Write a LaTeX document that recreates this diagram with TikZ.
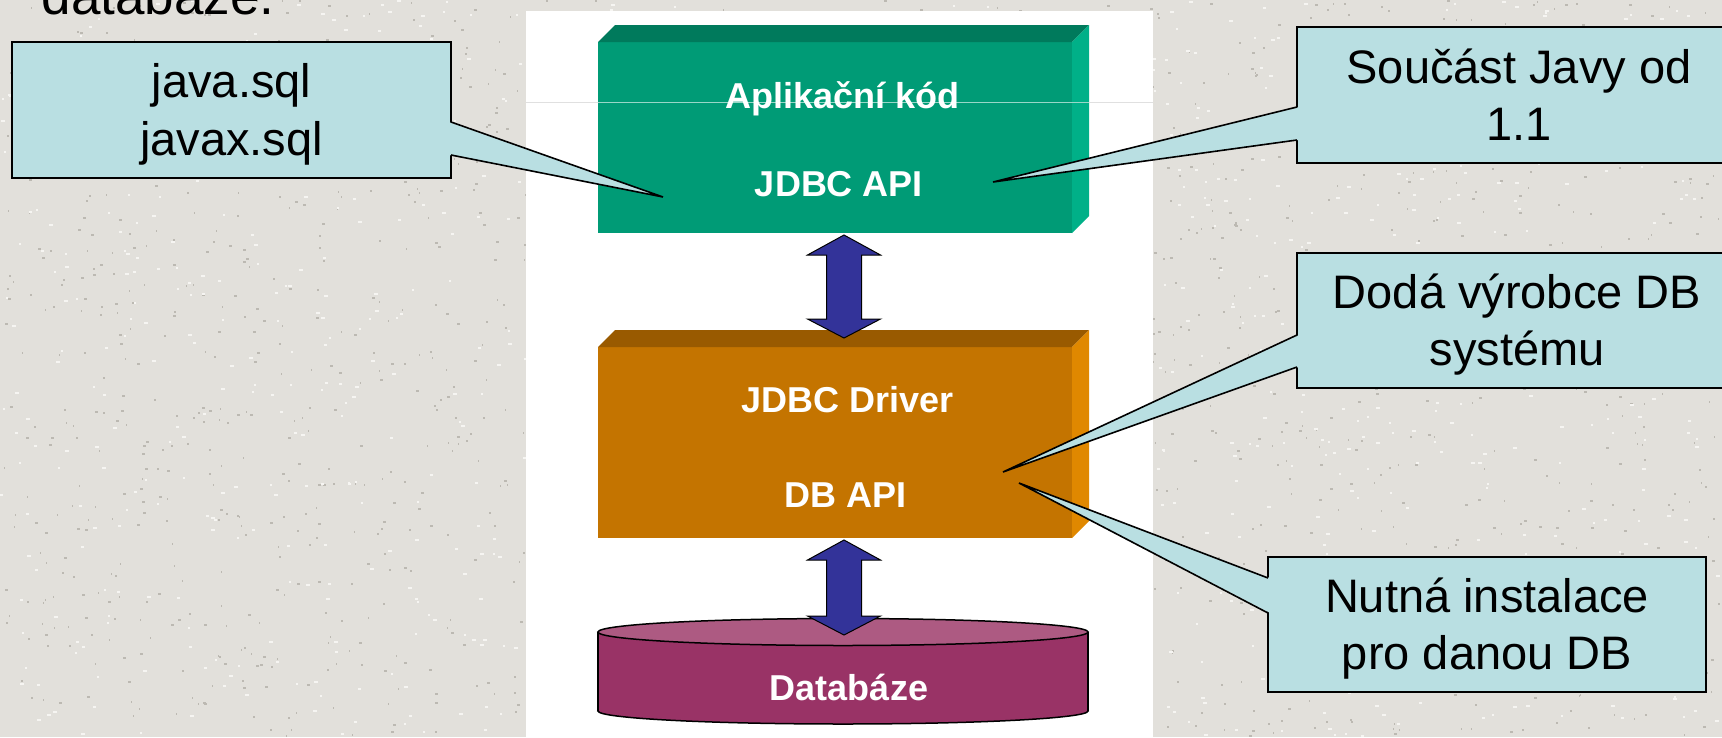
\documentclass[tikz,border=0pt]{standalone}
\usepackage{fontspec}
\setmainfont{Liberation Sans}
\usetikzlibrary{calc}
\definecolor{bgtex}{RGB}{226,224,219}
\definecolor{speckd}{RGB}{188,185,178}
\definecolor{speckl}{RGB}{246,245,242}
\definecolor{callfill}{RGB}{185,223,226}
\definecolor{gfront}{RGB}{0,155,118}
\definecolor{gtop}{RGB}{0,122,92}
\definecolor{gside}{RGB}{0,176,136}
\definecolor{ofront}{RGB}{196,116,0}
\definecolor{otop}{RGB}{153,90,0}
\definecolor{oside}{RGB}{224,136,0}
\definecolor{dbside}{RGB}{153,51,102}
\definecolor{dbtopc}{RGB}{173,90,130}
\definecolor{arrowblue}{RGB}{51,51,153}
\newcommand{\blockarrow}[2]{%
  \draw[barrow] (#1) -- ++(36.5,20) -- ++(-19,0) -- ($(#2)+(17.5,-19)$) -- ++(19,0) -- (#2)
     -- ++(-36.5,-19) -- ++(19,0) -- ($(#1)+(-17.5,20)$) -- ++(-19,0) -- cycle;}
\begin{document}
\begin{tikzpicture}[x=1pt,y=-1pt,
  callbox/.style={draw=black, line width=1.6pt, fill=callfill, rectangle, inner sep=0pt, outer sep=0pt},
  calltext/.style={anchor=base, inner sep=0pt, font=\fontsize{47}{57}\selectfont},
  blocktext/.style={anchor=base, inner sep=0pt, text=white, font=\fontsize{36}{43}\selectfont\bfseries},
  blockfront/.style={rectangle, draw=none, inner sep=0pt, outer sep=0pt, minimum width=474pt, minimum height=191pt},
  pointerline/.style={draw=black, line width=1.6pt},
  barrow/.style={fill=arrowblue, draw=black, line width=1pt, line join=miter},
  dbline/.style={draw=black, line width=1.5pt},
]
\useasboundingbox (0,0) rectangle (1722,737);
\clip (0,0) rectangle (1722,737);
\fill[bgtex] (0,0) rectangle (1722,737);

% granite-like background texture (light)
\pgfmathsetseed{4242}
\foreach \i in {1,...,1800}{%
  \pgfmathtruncatemacro{\px}{1722*rnd}%
  \pgfmathtruncatemacro{\py}{737*rnd}%
  \pgfmathtruncatemacro{\pw}{1+3*rnd}%
  \fill[speckd] (\px,\py) rectangle ++(\pw,2);
}
\foreach \i in {1,...,1200}{%
  \pgfmathtruncatemacro{\px}{1722*rnd}%
  \pgfmathtruncatemacro{\py}{737*rnd}%
  \pgfmathtruncatemacro{\pw}{2+3*rnd}%
  \fill[speckl] (\px,\py) rectangle ++(\pw,2);
}

% title fragment
\node[anchor=base west, inner sep=0pt, font=\fontsize{53}{60}\selectfont] (title) at (41.5,14) {databáze.};

% white panel
\fill[white] (526,11) rectangle (1153,745);

% green block
\node[blockfront, fill=gfront] (app) at (835,137.5) {};
\fill[gtop] (app.north west) -- ++(17,-17) -- ($(app.north east)+(17,-17)$) -- (app.north east) -- cycle;
\fill[gside] (app.north east) -- ++(17,-17) -- ($(app.south east)+(17,-17)$) -- (app.south east) -- cycle;
\draw[black!12, line width=0.8pt] (526,102.5) -- (app.west |- 0,102.5);
\draw[white!60!gfront, line width=0.8pt] (app.west |- 0,102.5) -- (1089,102.5);
\draw[black!12, line width=0.8pt] (1089,102.5) -- (1153,102.5);
\node[blocktext] (appa) at (842.5,108) {Aplikační kód};
\node[blocktext] (appb) at (839,196) {JDBC API};

% orange block
\node[blockfront, fill=ofront] (drv) at (835,442.5) {};
\fill[otop] (drv.north west) -- ++(17,-17) -- ($(drv.north east)+(17,-17)$) -- (drv.north east) -- cycle;
\fill[oside] (drv.north east) -- ++(17,-17) -- ($(drv.south east)+(17,-17)$) -- (drv.south east) -- cycle;
\node[blocktext] (drva) at (847.5,412) {JDBC Driver};
\node[blocktext] (drvb) at (845.5,507) {DB API};

% database cylinder
\coordinate (dbtop) at (843,632);
\coordinate (dbbot) at (843,711);
\filldraw[fill=dbside, dbline] (dbbot) ellipse [x radius=245pt, y radius=13pt];
\fill[dbside] (598,632) rectangle (1088,711);
\draw[dbline] (598,632) -- (598,711) (1088,632) -- (1088,711);
\filldraw[fill=dbtopc, dbline] (dbtop) ellipse [x radius=245pt, y radius=13.5pt];
\node[blocktext] (db) at (849,700) {Databáze};

% double block arrows
\coordinate (a1t) at ($(app.south)+(9,2)$);
\coordinate (a1b) at ($(drv.north)+(9,-9)$);
\coordinate (a2t) at ($(drv.south)+(9,2)$);
\coordinate (a2b) at ($(dbtop)+(1,3)$);
\blockarrow{a1t}{a1b}
\blockarrow{a2t}{a2b}

% callouts
\node[callbox, minimum width=439pt, minimum height=136pt] (c1) at (231.5,110) {};
\node[callbox, minimum width=444pt, minimum height=136pt] (c2) at (1519,95) {};
\node[callbox, minimum width=444pt, minimum height=135pt] (c3) at (1519,320.5) {};
\node[callbox, minimum width=438pt, minimum height=135pt] (c4) at (1487,624.5) {};

\coordinate (p1) at (663,197);
\coordinate (p2) at (993,182);
\coordinate (p3) at (1003,472);
\coordinate (p4) at (1019,483);

\fill[callfill] ([xshift=-2pt,yshift=-12pt]c1.east) -- (p1) -- ([xshift=-2pt,yshift=-45pt]c1.east) -- cycle;
\draw[pointerline] ([yshift=-12pt]c1.east) -- (p1) -- ([yshift=-45pt]c1.east);

\fill[callfill] ([xshift=2pt,yshift=-12pt]c2.west) -- (p2) -- ([xshift=2pt,yshift=-45pt]c2.west) -- cycle;
\draw[pointerline] ([yshift=-12pt]c2.west) -- (p2) -- ([yshift=-45pt]c2.west);

\fill[callfill] ([xshift=2pt,yshift=-14.5pt]c3.west) -- (p3) -- ([xshift=2pt,yshift=-46.5pt]c3.west) -- cycle;
\draw[pointerline] ([yshift=-14.5pt]c3.west) -- (p3) -- ([yshift=-46.5pt]c3.west);

\fill[callfill] ([xshift=2pt,yshift=46.5pt]c4.west) -- (p4) -- ([xshift=2pt,yshift=11.5pt]c4.west) -- cycle;
\draw[pointerline] ([yshift=46.5pt]c4.west) -- (p4) -- ([yshift=11.5pt]c4.west);

\node[calltext] (c1a) at (231.5,97) {java.sql};
\node[calltext] (c1b) at (231.5,155) {javax.sql};
\node[calltext] (c2a) at (1519,83) {Součást Javy od};
\node[calltext] (c2b) at (1519,140) {1.1};
\node[calltext] (c3a) at (1517,308) {Dodá výrobce DB};
\node[calltext] (c3b) at (1517,365) {systému};
\node[calltext] (c4a) at (1487,612) {Nutná instalace};
\node[calltext] (c4b) at (1487,669) {pro danou DB};
\end{tikzpicture}
\end{document}
